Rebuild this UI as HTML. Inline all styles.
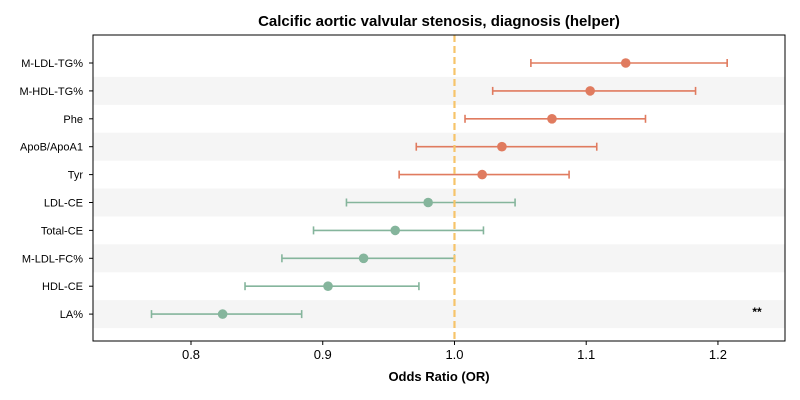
<!DOCTYPE html>
<html><head><meta charset="utf-8"><style>
body{margin:0;background:#fff;}
svg{display:block;font-family:"Liberation Sans","DejaVu Sans",sans-serif;}
</style></head><body>
<svg id="chart" width="800" height="400"></svg>
<script>
const labels=["M-LDL-TG%","M-HDL-TG%","Phe","ApoB/ApoA1","Tyr","LDL-CE","Total-CE","M-LDL-FC%","HDL-CE","LA%"];
const orValues=[1.130,1.103,1.074,1.036,1.021,0.980,0.955,0.931,0.904,0.824];
const ciLow=[1.058,1.029,1.008,0.971,0.958,0.918,0.893,0.869,0.841,0.770];
const ciHigh=[1.207,1.183,1.145,1.108,1.087,1.046,1.022,1.000,0.973,0.884];
const sigMarks=["","","","","","","","","","**"];
const xTicks=[0.8,0.9,1.0,1.1,1.2];
const ns="http://www.w3.org/2000/svg";
const svg=document.getElementById('chart');
const L=93,R=785,T=35,B=341;
const xMin=0.7256,xMax=1.2509;
const x=v=>L+(v-xMin)/(xMax-xMin)*(R-L);
const y=i=>63+i*27.9;
function mk(t,a,p){const e=document.createElementNS(ns,t);for(const k in a)e.setAttribute(k,a[k]);(p||svg).appendChild(e);return e;}
let e;
labels.forEach((l,i)=>{if(i%2===1){e=mk('rect',{x:L,y:y(i)-14,width:R-L,height:28,fill:'#f5f5f5'});

}});
const groups=[];
labels.forEach((l,i)=>{
 const c=orValues[i]>=1?'#e07b5f':'#85b59c';
 const g=mk('g',{});
 
 
 const yy=y(i);
 mk('line',{x1:x(ciLow[i]),x2:x(ciHigh[i]),y1:yy,y2:yy,stroke:c,'stroke-width':1.6},g);
 mk('line',{x1:x(ciLow[i]),x2:x(ciLow[i]),y1:yy-4,y2:yy+4,stroke:c,'stroke-width':1.6},g);
 mk('line',{x1:x(ciHigh[i]),x2:x(ciHigh[i]),y1:yy-4,y2:yy+4,stroke:c,'stroke-width':1.6},g);
 groups.push([g,c,yy,i]);
 const t=mk('text',{x:L-10,y:yy+4,'text-anchor':'end','font-size':11,fill:'#000'});t.textContent=l;
 
 
 mk('line',{x1:L-4,x2:L,y1:yy,y2:yy,stroke:'#000'});
 if(sigMarks[i]){const s=mk('text',{x:757,y:yy+2,'text-anchor':'middle','font-size':12,'font-weight':'bold'});s.textContent=sigMarks[i];
 
 }
});
e=mk('line',{x1:x(1),x2:x(1),y1:T,y2:B,stroke:'#f6c46a','stroke-width':2.2,'stroke-dasharray':'7,4'});


groups.forEach(([g,c,yy,i])=>{
 const p=mk('circle',{cx:x(orValues[i]),cy:yy,r:4.8,fill:c});
 
 
});
e=mk('rect',{x:L,y:T,width:R-L,height:B-T,fill:'none',stroke:'#000','stroke-width':1});


xTicks.forEach(v=>{mk('line',{x1:x(v),x2:x(v),y1:B,y2:B+4,stroke:'#000'});
 const t=mk('text',{x:x(v),y:B+18,'text-anchor':'middle','font-size':13});t.textContent=v.toFixed(1);
 
 });
e=mk('text',{x:(L+R)/2,y:381,'text-anchor':'middle','font-size':13,'font-weight':'bold'});e.textContent='Odds Ratio (OR)';


e=mk('text',{x:(L+R)/2,y:26,'text-anchor':'middle','font-size':15,'font-weight':'bold'});e.textContent='Calcific aortic valvular stenosis, diagnosis (helper)';


</script>
</body></html>
